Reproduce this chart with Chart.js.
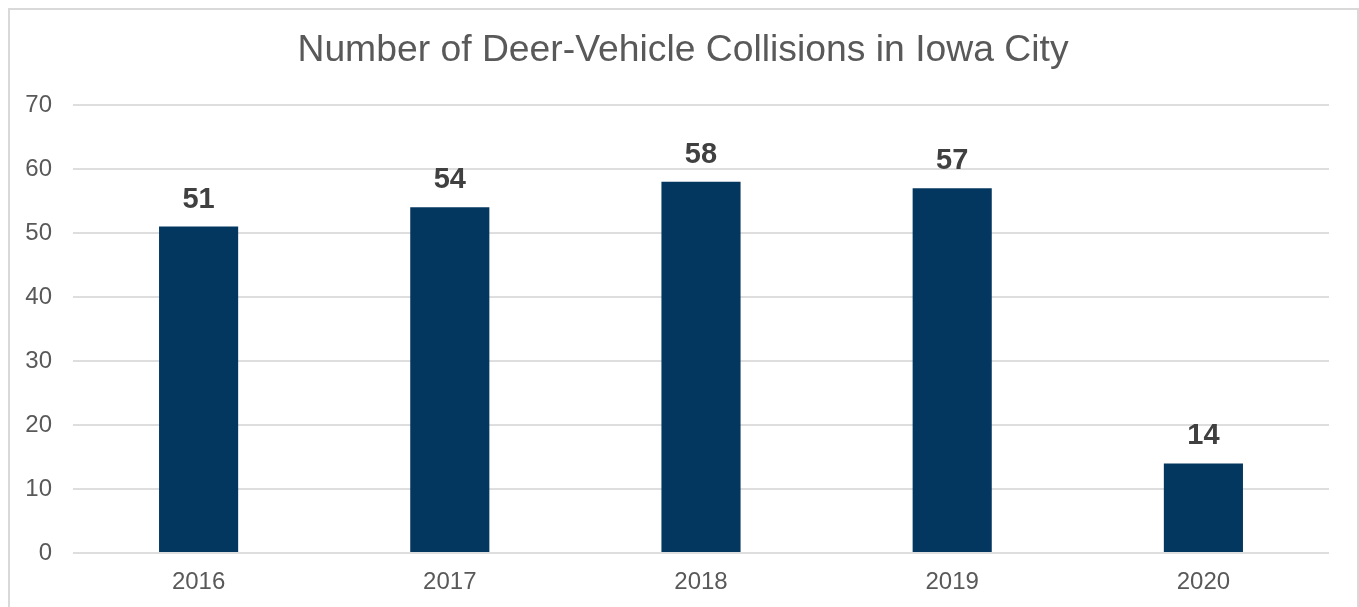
<!DOCTYPE html>
<html>
<head>
<meta charset="utf-8">
<script src="https://cdn.jsdelivr.net/npm/chart.js@4/dist/chart.umd.min.js"></script>
<style>
  html, body { margin: 0; padding: 0; background: #fff; overflow: hidden; }
  #frame {
    position: absolute; left: 8px; top: 8px;
    width: 1347px; height: 700px;
    border: 2px solid #d9d9d9;
  }
  #wrap { position: absolute; left: 0; top: 0; width: 1359px; height: 607px; }
</style>
</head>
<body>
<div id="frame"></div>
<div id="wrap"><canvas id="chart"></canvas></div>
<script>
  const years = ["2016", "2017", "2018", "2019", "2020"];
  const collisions = [51, 54, 58, 57, 14];
  const chartTitle = "Number of Deer-Vehicle Collisions in Iowa City";

  const textGray = "#595959";
  const barColor = "#03375f";
  const fontFamily = "'Liberation Sans', Arial, sans-serif";

  // draws the bold value above each bar
  const valueLabels = {
    id: "valueLabels",
    afterDatasetsDraw(chart) {
      const ctx = chart.ctx;
      const meta = chart.getDatasetMeta(0);
      ctx.save();
      ctx.font = `bold 29px ${fontFamily}`;
      ctx.fillStyle = "#404040";
      ctx.textAlign = "center";
      ctx.textBaseline = "alphabetic";
      meta.data.forEach((bar, index) => {
        ctx.fillText(String(collisions[index]), bar.x, bar.y - 19);
      });
      ctx.restore();
    },
  };

  // the reference title sits a little right of the plot's centre
  const shiftTitle = {
    id: "shiftTitle",
    afterLayout(chart) {
      if (chart.titleBlock) {
        chart.titleBlock.left = 0;
        chart.titleBlock.right = 1366;
      }
    },
  };

  new Chart(document.getElementById("chart"), {
    type: "bar",
    data: {
      labels: years,
      datasets: [
        {
          data: collisions,
          backgroundColor: barColor,
          borderWidth: 0,
          barPercentage: 0.315,
          categoryPercentage: 1,
        },
      ],
    },
    options: {
      responsive: true,
      maintainAspectRatio: false,
      animation: false,
      layout: {
        padding: { left: 0, right: 30, top: 0, bottom: 0 },
      },
      plugins: {
        legend: { display: false },
        tooltip: { enabled: false },
        title: {
          display: true,
          text: chartTitle,
          color: textGray,
          font: { family: fontFamily, size: 37.3, weight: "normal", lineHeight: 1.2 },
          padding: { top: 28, bottom: 32.2 },
        },
      },
      scales: {
        x: {
          grid: { display: false, drawTicks: false },
          border: { display: false },
          ticks: {
            color: textGray,
            padding: 15,
            font: { family: fontFamily, size: 24 },
          },
          afterFit(scale) {
            scale.height = 54;
          },
        },
        y: {
          min: 0,
          max: 70,
          grid: { color: "#dedede", lineWidth: 2, drawTicks: false },
          border: { display: false },
          ticks: {
            stepSize: 10,
            color: textGray,
            padding: 21,
            font: { family: fontFamily, size: 24 },
          },
          afterFit(scale) {
            scale.width = 73;
          },
        },
      },
    },
    plugins: [valueLabels, shiftTitle],
  });
</script>
</body>
</html>
